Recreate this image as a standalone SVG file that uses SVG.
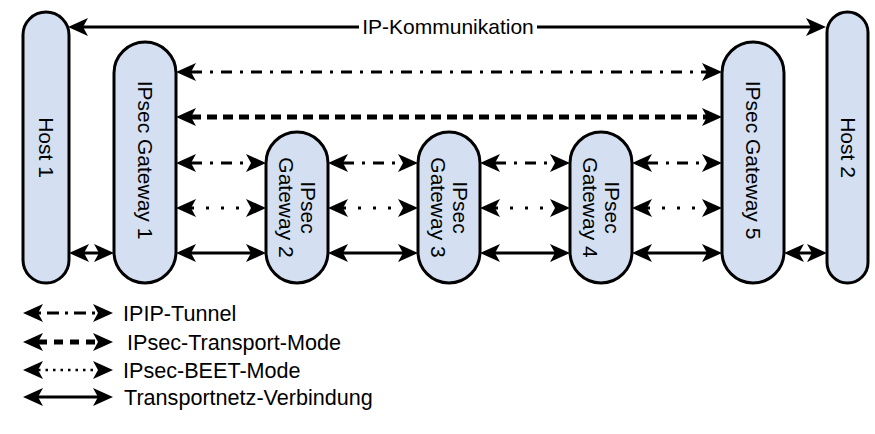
<svg xmlns="http://www.w3.org/2000/svg" width="875" height="434" viewBox="0 0 875 434">
<style>
.node{fill:#d4e0f1;stroke:#000;stroke-width:3}
.lbl{font-family:"Liberation Sans",Arial,sans-serif;font-size:21px;fill:#000}
.leg{font-size:21.6px}
.c{fill:none;stroke:#000;stroke-width:3;marker-start:url(#ah);marker-end:url(#ah)}
.ipip{stroke-dasharray:11 8 3 8}
.trans{stroke-width:5;stroke-dasharray:10 6}
.beet{stroke-dasharray:3 12}
.lipip{stroke-dasharray:3 6 12 6}
.ltrans{stroke-width:5;stroke-dasharray:9 7}
.lbeet{stroke-width:2.5;stroke-dasharray:2.5 5}
</style>
<defs>
<marker id="ah" markerUnits="userSpaceOnUse" orient="auto-start-reverse" refX="5" refY="0" markerWidth="24" markerHeight="24" overflow="visible">
<path d="M20,0 L0,-9 L5,0 L0,9 Z" fill="#000"/>
</marker>
</defs>
<rect width="875" height="434" fill="#fff"/>

<g id="connectors">
<line class="c" x1="83" y1="27" x2="811" y2="27"/>
<rect x="359" y="15" width="178" height="24" fill="#fff"/>
<text class="lbl" x="448" y="34" text-anchor="middle">IP-Kommunikation</text>

<line class="c ipip" x1="191" y1="72" x2="707" y2="72"/>
<line class="c trans" x1="191" y1="117" x2="707" y2="117"/>

<line class="c ipip" x1="191" y1="163" x2="251" y2="163"/>
<line class="c ipip" x1="343" y1="163" x2="403" y2="163"/>
<line class="c ipip" x1="495" y1="163" x2="555" y2="163"/>
<line class="c ipip" x1="647" y1="163" x2="707" y2="163"/>

<line class="c beet" x1="191" y1="208" x2="251" y2="208"/>
<line class="c beet" x1="343" y1="208" x2="403" y2="208"/>
<line class="c beet" x1="495" y1="208" x2="555" y2="208"/>
<line class="c beet" x1="647" y1="208" x2="707" y2="208"/>

<line class="c" x1="84" y1="253" x2="99" y2="253"/>
<line class="c" x1="191" y1="253" x2="251" y2="253"/>
<line class="c" x1="343" y1="253" x2="403" y2="253"/>
<line class="c" x1="495" y1="253" x2="555" y2="253"/>
<line class="c" x1="647" y1="253" x2="707" y2="253"/>
<line class="c" x1="799" y1="253" x2="812" y2="253"/>
</g>

<g id="host1">
<rect class="node" x="23" y="12" width="46" height="271" rx="23" ry="23"/>
<text class="lbl" transform="translate(46,147.5) rotate(90)" x="0" y="7" text-anchor="middle">Host 1</text>
</g>
<g id="gw1">
<rect class="node" x="114" y="42" width="62" height="241" rx="31" ry="31"/>
<text class="lbl" transform="translate(145,160) rotate(90)" x="0" y="7" text-anchor="middle">IPsec Gateway 1</text>
</g>
<g id="gw2">
<rect class="node" x="266" y="132" width="62" height="151" rx="31" ry="31"/>
<text class="lbl" transform="translate(297,207.5) rotate(90)" text-anchor="middle"><tspan x="0" y="-4">IPsec</tspan><tspan x="0" y="18">Gateway 2</tspan></text>
</g>
<g id="gw3">
<rect class="node" x="418" y="132" width="62" height="151" rx="31" ry="31"/>
<text class="lbl" transform="translate(449,207.5) rotate(90)" text-anchor="middle"><tspan x="0" y="-4">IPsec</tspan><tspan x="0" y="18">Gateway 3</tspan></text>
</g>
<g id="gw4">
<rect class="node" x="570" y="132" width="62" height="151" rx="31" ry="31"/>
<text class="lbl" transform="translate(601,207.5) rotate(90)" text-anchor="middle"><tspan x="0" y="-4">IPsec</tspan><tspan x="0" y="18">Gateway 4</tspan></text>
</g>
<g id="gw5">
<rect class="node" x="722" y="42" width="62" height="241" rx="31" ry="31"/>
<text class="lbl" transform="translate(753,160) rotate(90)" x="0" y="7" text-anchor="middle">IPsec Gateway 5</text>
</g>
<g id="host2">
<rect class="node" x="827" y="12" width="41" height="271" rx="20.5" ry="20.5"/>
<text class="lbl" transform="translate(847.5,147.5) rotate(90)" x="0" y="7" text-anchor="middle">Host 2</text>
</g>

<g id="legend">
<line class="c lipip" x1="38" y1="313" x2="98" y2="313"/>
<text class="lbl leg" x="123" y="321">IPIP-Tunnel</text>
<line class="c ltrans" x1="38" y1="342" x2="98" y2="342"/>
<text class="lbl leg" x="127" y="350">IPsec-Transport-Mode</text>
<line class="c lbeet" x1="38" y1="370" x2="98" y2="370"/>
<text class="lbl leg" x="123" y="378">IPsec-BEET-Mode</text>
<line class="c" x1="38" y1="397" x2="98" y2="397"/>
<text class="lbl leg" x="124" y="405">Transportnetz-Verbindung</text>
</g>
</svg>
